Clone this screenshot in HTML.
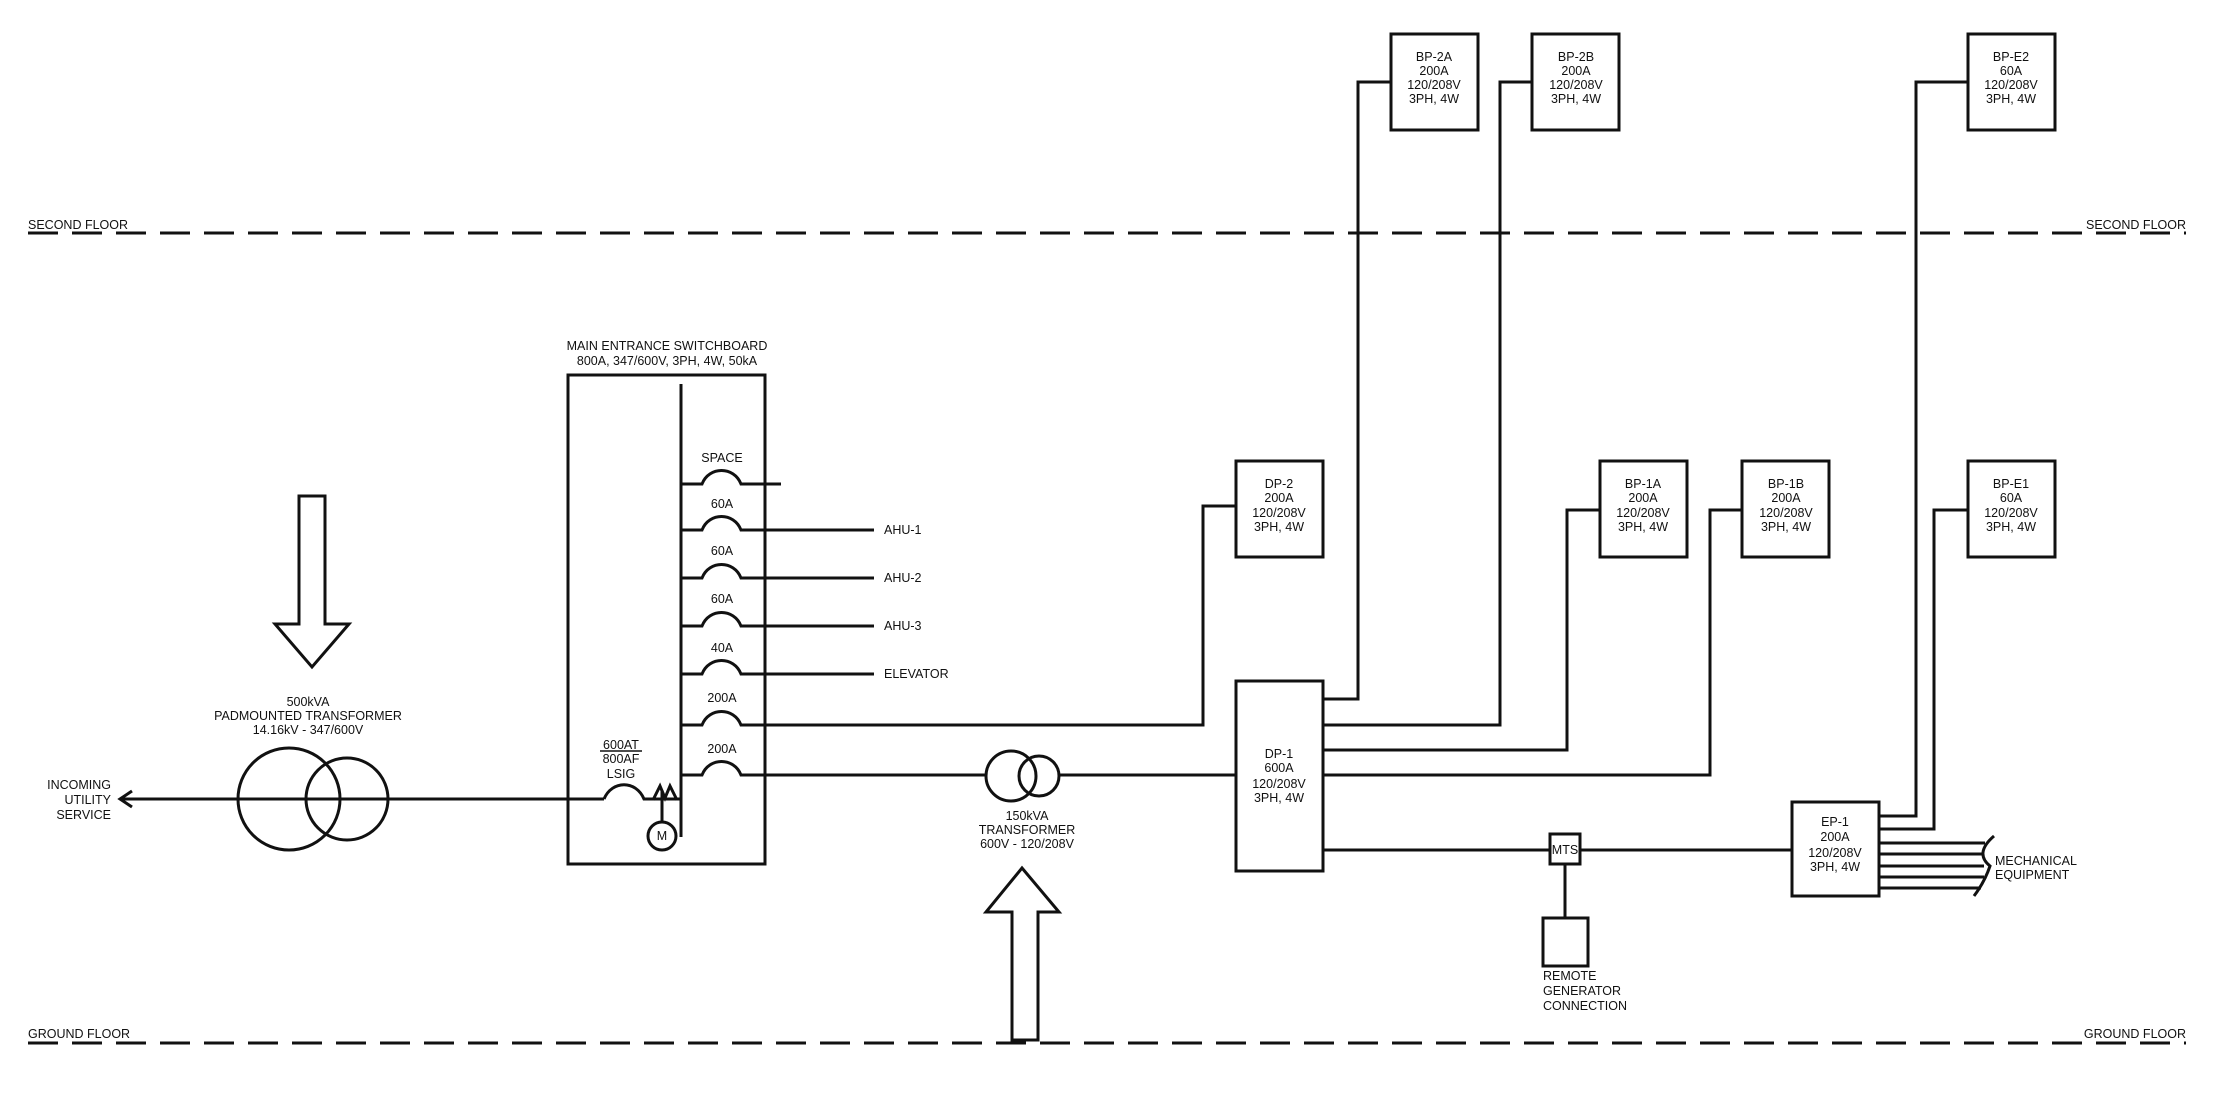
<!DOCTYPE html>
<html><head><meta charset="utf-8"><style>
html,body{margin:0;padding:0;background:#fff;}
svg{display:block;}
text{font-family:"Liberation Sans",sans-serif;font-size:12.5px;fill:#111;}
</style></head><body>
<svg width="2214" height="1101" viewBox="0 0 2214 1101" xmlns="http://www.w3.org/2000/svg">
<g stroke="#111" stroke-width="3" fill="none">
<!-- floor lines -->
<line x1="28" y1="233" x2="2186" y2="233" stroke-dasharray="30 14"/>
<line x1="28" y1="1043" x2="2186" y2="1043" stroke-dasharray="30 14"/>
<!-- down arrow -->
<path d="M299 496 H325 V624 H349 L312 667 L275 624 H299 Z"/>
<!-- transformer 500kVA -->
<circle cx="289" cy="799" r="51"/>
<circle cx="347" cy="799" r="41"/>
<line x1="120" y1="799" x2="604" y2="799"/>
<path d="M132 791 L120 799 L132 807"/>
<!-- switchboard -->
<rect x="568" y="375" width="197" height="489"/>
<line x1="681" y1="384" x2="681" y2="837"/>
<!-- main breaker -->
<path d="M604 799 C612 780 636 780 644 799 H681"/>
<path d="M653 800 L660 786 L665 798 L670 786 L677 800"/>
<line x1="662" y1="790" x2="662" y2="822"/>
<circle cx="662" cy="836" r="14"/>
<line x1="600" y1="751" x2="642" y2="751" stroke-width="1.5"/>
<!-- branch breakers -->
<path d="M681 484 H702 C709 466 734 466 741 484 H781"/>
<path d="M681 530 H702 C709 512 734 512 741 530 H874"/>
<path d="M681 578 H702 C709 560 734 560 741 578 H874"/>
<path d="M681 626 H702 C709 608 734 608 741 626 H874"/>
<path d="M681 674 H702 C709 656 734 656 741 674 H874"/>
<path d="M681 725 H702 C709 707 734 707 741 725 H1203 V506 H1236"/>
<path d="M681 775 H702 C709 757 734 757 741 775 H986"/>
<!-- 150kVA transformer -->
<circle cx="1011" cy="776" r="25"/>
<circle cx="1039" cy="776" r="20"/>
<line x1="1059" y1="775" x2="1236" y2="775"/>
<!-- up arrow -->
<path d="M1012 1040 V912 H986 L1022 868 L1059 912 H1038 V1040 Z"/>
<!-- DP-2 -->
<rect x="1236" y="461" width="87" height="96"/>
<!-- DP-1 -->
<rect x="1236" y="681" width="87" height="190"/>
<path d="M1323 699 H1358 V82 H1391"/>
<path d="M1323 725 H1500 V82 H1532"/>
<path d="M1323 750 H1567 V510 H1600"/>
<path d="M1323 775 H1710 V510 H1742"/>
<line x1="1323" y1="850" x2="1550" y2="850"/>
<line x1="1580" y1="850" x2="1792" y2="850"/>
<rect x="1550" y="834" width="30" height="30"/>
<line x1="1565" y1="864" x2="1565" y2="918"/>
<rect x="1543" y="918" width="45" height="48"/>
<!-- BP boxes -->
<rect x="1391" y="34" width="87" height="96"/>
<rect x="1532" y="34" width="87" height="96"/>
<rect x="1968" y="34" width="87" height="96"/>
<rect x="1600" y="461" width="87" height="96"/>
<rect x="1742" y="461" width="87" height="96"/>
<rect x="1968" y="461" width="87" height="96"/>
<!-- EP-1 -->
<rect x="1792" y="802" width="87" height="94"/>
<path d="M1879 816 H1916 V82 H1968"/>
<path d="M1879 829 H1934 V510 H1968"/>
<line x1="1879" y1="843" x2="1985" y2="843"/>
<line x1="1879" y1="854" x2="1982" y2="854"/>
<line x1="1879" y1="866" x2="1984" y2="866"/>
<line x1="1879" y1="877" x2="1984" y2="877"/>
<line x1="1879" y1="888" x2="1981" y2="888"/>
<path d="M1994 836 C1980 848 1980 858 1990 866 C1986 878 1980 888 1974 896"/>
</g>
<text x="28" y="229">SECOND FLOOR</text>
<text x="2186" y="229" text-anchor="end">SECOND FLOOR</text>
<text x="28" y="1038">GROUND FLOOR</text>
<text x="2186" y="1038" text-anchor="end">GROUND FLOOR</text>
<g text-anchor="middle">
<text x="308" y="706">500kVA</text>
<text x="308" y="720">PADMOUNTED TRANSFORMER</text>
<text x="308" y="734">14.16kV - 347/600V</text>
<text x="667" y="350">MAIN ENTRANCE SWITCHBOARD</text>
<text x="667" y="365">800A, 347/600V, 3PH, 4W, 50kA</text>
<text x="722" y="462">SPACE</text>
<text x="722" y="508">60A</text>
<text x="722" y="555">60A</text>
<text x="722" y="603">60A</text>
<text x="722" y="652">40A</text>
<text x="722" y="702">200A</text>
<text x="722" y="753">200A</text>
<text x="621" y="749">600AT</text>
<text x="621" y="763">800AF</text>
<text x="621" y="778">LSIG</text>
<text x="662" y="840" font-size="12">M</text>
<text x="1027" y="820">150kVA</text>
<text x="1027" y="834">TRANSFORMER</text>
<text x="1027" y="848">600V - 120/208V</text>
<text x="1565" y="854" font-size="11">MTS</text>
</g>
<g text-anchor="end">
<text x="111" y="789">INCOMING</text>
<text x="111" y="804">UTILITY</text>
<text x="111" y="819">SERVICE</text>
</g>
<text x="884" y="534">AHU-1</text>
<text x="884" y="582">AHU-2</text>
<text x="884" y="630">AHU-3</text>
<text x="884" y="678">ELEVATOR</text>
<text x="1543" y="980">REMOTE</text>
<text x="1543" y="995">GENERATOR</text>
<text x="1543" y="1010">CONNECTION</text>
<text x="1995" y="865">MECHANICAL</text>
<text x="1995" y="879">EQUIPMENT</text>
<g text-anchor="middle">
<text x="1279" y="488">DP-2</text><text x="1279" y="502">200A</text><text x="1279" y="517">120/208V</text><text x="1279" y="531">3PH, 4W</text>
<text x="1279" y="758">DP-1</text><text x="1279" y="772">600A</text><text x="1279" y="788">120/208V</text><text x="1279" y="802">3PH, 4W</text>
<text x="1434" y="61">BP-2A</text><text x="1434" y="75">200A</text><text x="1434" y="89">120/208V</text><text x="1434" y="103">3PH, 4W</text>
<text x="1576" y="61">BP-2B</text><text x="1576" y="75">200A</text><text x="1576" y="89">120/208V</text><text x="1576" y="103">3PH, 4W</text>
<text x="2011" y="61">BP-E2</text><text x="2011" y="75">60A</text><text x="2011" y="89">120/208V</text><text x="2011" y="103">3PH, 4W</text>
<text x="1643" y="488">BP-1A</text><text x="1643" y="502">200A</text><text x="1643" y="517">120/208V</text><text x="1643" y="531">3PH, 4W</text>
<text x="1786" y="488">BP-1B</text><text x="1786" y="502">200A</text><text x="1786" y="517">120/208V</text><text x="1786" y="531">3PH, 4W</text>
<text x="2011" y="488">BP-E1</text><text x="2011" y="502">60A</text><text x="2011" y="517">120/208V</text><text x="2011" y="531">3PH, 4W</text>
<text x="1835" y="826">EP-1</text><text x="1835" y="841">200A</text><text x="1835" y="857">120/208V</text><text x="1835" y="871">3PH, 4W</text>
</g>
</svg>
</body></html>
